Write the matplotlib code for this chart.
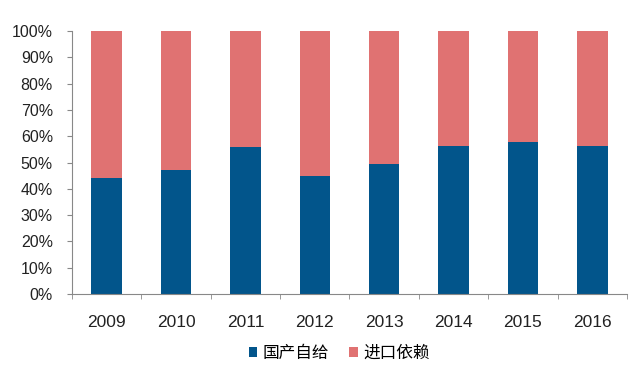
import matplotlib.pyplot as plt
import numpy as np

plt.rcParams['font.family'] = ['Liberation Sans', 'Noto Sans CJK SC', 'DejaVu Sans']

years = ['2009', '2010', '2011', '2012', '2013', '2014', '2015', '2016']
domestic = [44.2, 47.0, 55.9, 45.0, 49.4, 56.3, 57.8, 56.3]   # 国产自给 (%)
imported = [100 - v for v in domestic]                          # 进口依赖 (%)

blue = '#02558B'
red = '#E07272'

fig = plt.figure(figsize=(6.36, 3.66), dpi=100)
ax = fig.add_axes([0.113, 0.197, 0.873, 0.718])

x = np.arange(len(years))
ax.bar(x, domestic, width=0.44, color=blue, label='国产自给')
ax.bar(x, imported, width=0.44, bottom=domestic, color=red, label='进口依赖')

ax.set_xlim(-0.5, len(years) - 0.5)
ax.set_ylim(0, 100)
ax.set_yticks(np.arange(0, 101, 10))
ax.set_yticklabels([f'{v}%' for v in range(0, 101, 10)], fontsize=11.5, color='#222222')
ax.set_xticks(x)
ax.set_xticklabels(years, fontsize=12.5, color='#222222')
ax.set_xticks(np.arange(-0.5, len(years)), minor=True)
ax.tick_params(axis='x', which='major', length=0, pad=15)
ax.tick_params(axis='x', which='minor', length=3.6, color='#888888', direction='out')
ax.tick_params(axis='y', length=3.6, color='#888888', direction='out', pad=10)

for s in ['top', 'right']:
    ax.spines[s].set_visible(False)
for s in ['left', 'bottom']:
    ax.spines[s].set_color('#888888')
    ax.spines[s].set_linewidth(0.8)

ax.legend(loc='upper center', bbox_to_anchor=(0.482, -0.14), ncol=2, frameon=False,
          fontsize=12, handlelength=0.5, handleheight=0.5, handletextpad=0.35,
          columnspacing=1.2)

fig.savefig('out.png', dpi=100)
